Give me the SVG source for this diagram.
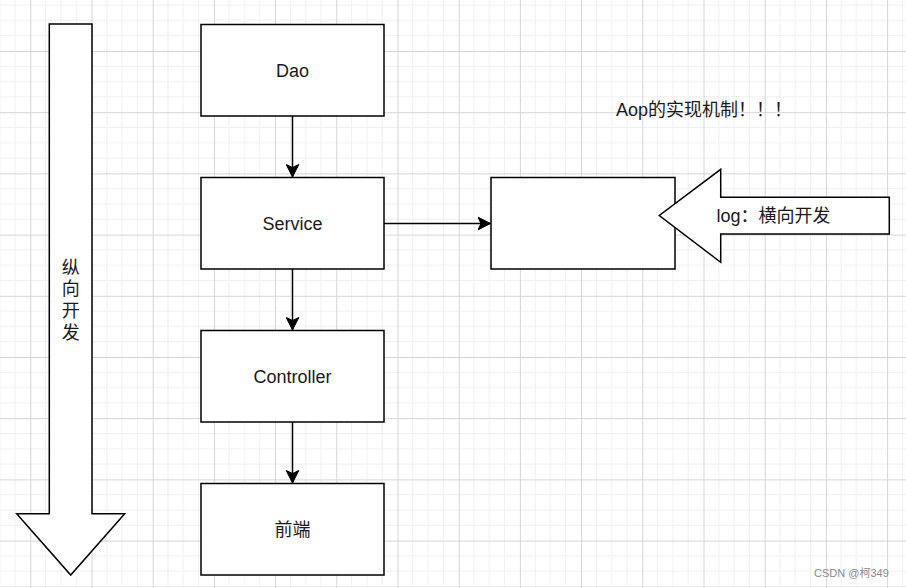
<svg xmlns="http://www.w3.org/2000/svg" width="906" height="588" viewBox="0 0 906 588">
<style>
.shape{fill:#fff;stroke:#000;stroke-width:1.5}
.edge{fill:none;stroke:#000;stroke-width:1.5}
.t{font-family:"Liberation Sans","Noto Sans CJK SC",Arial,sans-serif;font-size:18px;fill:#1a1a1a;text-anchor:middle}
.ts{text-anchor:start}
.wm{font-family:"Liberation Sans","Noto Sans CJK SC",sans-serif;font-size:11px;fill:#8a8a8a}
</style>
<defs>
<pattern id="grid" patternUnits="userSpaceOnUse" x="30.3" y="-10.2" width="61.2" height="61.2">
<path d="M15.3 0V61.2M30.6 0V61.2M45.9 0V61.2M0 15.3H61.2M0 30.6H61.2M0 45.9H61.2" stroke="#efefef" stroke-width="1" fill="none"/>
<path d="M0.5 0V61.2M0 0.5H61.2" stroke="#d5d5d5" stroke-width="1" fill="none"/>
</pattern>
<marker id="arr" markerUnits="userSpaceOnUse" markerWidth="14" markerHeight="14" viewBox="-13 -7 14 14" refX="0" refY="0" orient="auto">
<path d="M0 0L-12.5 -6.3L-9.5 0L-12.5 6.3Z" fill="#000" stroke="#000" stroke-width="1"/>
</marker>
</defs>
<rect width="906" height="588" fill="#fff"/>
<rect width="906" height="588" fill="url(#grid)"/>

<g id="vertical-arrow">
<polygon class="shape" points="49.3,24 92,24 92,513.7 124.7,513.7 70.7,575 16.7,513.7 49.3,513.7"/>
<text class="t" x="70.7" y="273.5">纵</text>
<text class="t" x="70.7" y="295.4">向</text>
<text class="t" x="70.7" y="317.3">开</text>
<text class="t" x="70.7" y="339.3">发</text>
</g>

<g id="connectors">
<line class="edge" x1="292.5" y1="116" x2="292.5" y2="177" marker-end="url(#arr)"/>
<line class="edge" x1="292.5" y1="269" x2="292.5" y2="330" marker-end="url(#arr)"/>
<line class="edge" x1="292.5" y1="422" x2="292.5" y2="483" marker-end="url(#arr)"/>
<line class="edge" x1="384" y1="223.5" x2="490.5" y2="223.5" marker-end="url(#arr)"/>
</g>

<g id="dao">
<rect class="shape" x="201" y="24.5" width="183" height="91.5"/>
<text class="t" x="292.5" y="76.5">Dao</text>
</g>
<g id="service">
<rect class="shape" x="201" y="177.5" width="183" height="91.5"/>
<text class="t" x="292.5" y="229.5">Service</text>
</g>
<g id="controller">
<rect class="shape" x="201" y="330.5" width="183" height="91.5"/>
<text class="t" x="292.5" y="382.5">Controller</text>
</g>
<g id="frontend">
<rect class="shape" x="201" y="483.5" width="183" height="91.5"/>
<text class="t" x="292.5" y="535.5">前端</text>
</g>
<g id="aop-box">
<rect class="shape" x="491" y="177.5" width="184" height="91.5"/>
</g>
<g id="log-arrow">
<polygon class="shape" points="889.3,197.3 720.7,197.3 720.7,169.3 659.3,215.5 720.7,262.3 720.7,234 889.3,234"/>
<text class="t ts" x="716.5" y="221.5">log：横向开发</text>
</g>
<g id="aop-title">
<text class="t ts" x="616" y="116">Aop的实现机制！！！</text>
</g>
<text class="wm" x="814" y="577">CSDN @柯349</text>
</svg>
